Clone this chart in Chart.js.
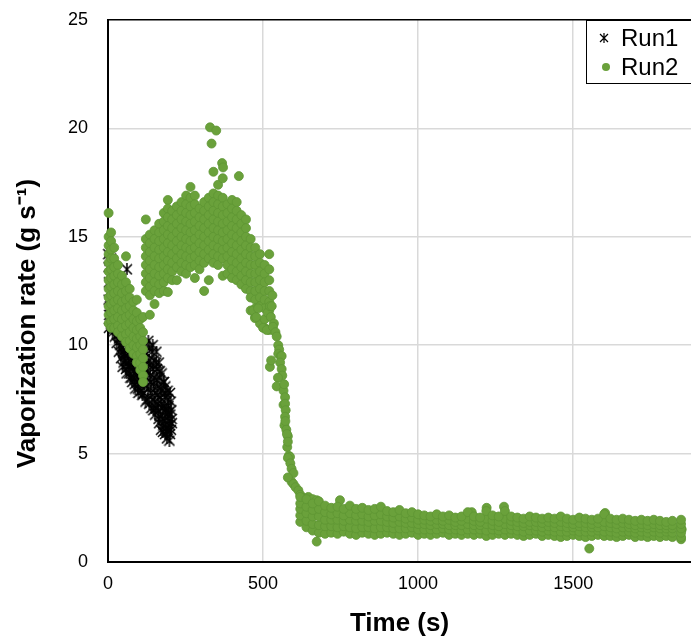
<!DOCTYPE html>
<html>
<head>
<meta charset="utf-8">
<script src="https://cdn.jsdelivr.net/npm/chart.js@4/dist/chart.umd.min.js"></script>
<style>
  html, body { margin: 0; padding: 0; background: #fff; overflow: hidden; }
</style>
</head>
<body>
<canvas id="chart" width="691" height="639"></canvas>
<script>
// Run1: [time (s), vaporization rate (g/s)]
const run1Points = [
  [1,14.2],[2,13.6],[3,12.9],[2,12.1],[4,11.4],[3,10.8],[5,13.9],[6,13.2],[7,12.5],[8,11.8],
  [9,11.0],[10,14.0],[12,13.1],[13,12.3],[14,11.5],[15,10.6],[17,12.8],[18,11.9],[20,11.2],[22,10.4],
  [24,12.0],[26,10.9],[28,10.1],[30,11.4],[33,10.5],[35,9.7],[38,10.9],[40,10.0],[42,9.4],[45,10.5],
  [48,9.7],[50,9.2],[53,10.2],[55,9.5],[58,8.9],[61,13.5],[62,9.9],[65,9.2],[68,8.7],[70,9.7],
  [73,9.0],[76,8.5],[80,9.5],[83,8.8],[86,8.2],[90,9.2],[93,8.6],[96,8.0],[100,9.0],[103,8.4],
  [106,7.9],[110,9.4],[113,8.6],[116,7.8],[120,10.0],[122,9.1],[124,8.3],[127,7.5],[130,10.2],[132,9.3],
  [135,8.6],[137,7.8],[140,7.1],[142,9.7],[145,8.9],[147,8.1],[150,7.4],[152,6.8],[155,9.2],[157,8.4],
  [160,7.7],[162,7.0],[165,6.4],[167,8.8],[170,8.0],[172,7.3],[175,6.6],[177,6.0],[180,8.3],[182,7.6],
  [185,6.9],[187,6.2],[190,5.7],[192,7.9],[195,7.2],[197,6.5],[200,5.9],[202,7.4],[205,6.6],[203,6.1],
  [198,5.6],[36,10.3],[44,9.9],[47,9.0],[52,9.6],[57,9.3],[60,8.7],[64,9.6],[67,9.0],[72,8.5],
  [75,9.3],[78,8.3],[82,9.0],[85,8.5],[88,8.0],[92,8.8],[95,8.3],[98,7.8],[99,9.3],[101,8.2],
  [104,9.3],[108,8.3],[111,7.7],[115,9.0],[118,8.2],[121,7.4],[125,9.6],[128,8.8],[129,8.0],[133,7.3],
  [134,9.9],[138,9.1],[139,8.3],[143,7.5],[144,10.0],[146,7.0],[148,9.3],[149,8.5],[151,7.8],[154,7.1],
  [156,9.7],[158,8.9],[159,8.1],[161,7.3],[163,6.6],[164,9.2],[166,8.5],[168,7.6],[169,6.8],[171,6.1],
  [173,8.7],[174,7.9],[176,7.1],[178,6.3],[179,8.3],[181,7.2],[183,6.5],[184,5.9],[186,7.8],[188,7.0],
  [189,6.0],[191,6.7],[193,6.1],[194,7.5],[196,6.9],[199,6.3],[201,6.8],[204,7.0],[206,6.4],[200,7.8],
  [185,8.1]
];

// Run2, first falling branch: sample times and the rates read at each time
const branchTimes = [2, 10, 20, 32, 45, 58, 70, 82, 93, 104, 113];
const branchRates = [
  [16.1, 15.0, 14.6, 14.2, 13.8, 13.4, 13.0, 12.6, 12.2, 11.8, 11.4, 11.0],
  [15.2, 14.8, 14.4, 14.0, 13.5, 13.1, 12.7, 12.3, 11.9, 11.5, 11.1, 10.8],
  [14.5, 14.0, 13.6, 13.2, 12.8, 12.4, 12.0, 11.6, 11.2, 10.8],
  [13.7, 13.3, 12.9, 12.5, 12.1, 11.7, 11.3, 10.9, 10.6],
  [13.2, 12.8, 12.4, 12.0, 11.6, 11.2, 10.8, 10.4],
  [14.1, 12.9, 12.5, 12.1, 11.7, 11.3, 10.9, 10.5, 10.15],
  [12.6, 12.2, 11.8, 11.4, 11.0, 10.6, 10.2, 9.85],
  [12.0, 11.6, 11.2, 10.8, 10.4, 10.0, 9.6],
  [12.1, 11.5, 11.1, 10.7, 10.3, 9.9, 9.5, 9.2],
  [11.2, 10.8, 10.4, 10.0, 9.6, 9.2, 8.86],
  [11.3, 10.6, 10.2, 9.8, 9.4, 9.0, 8.6, 8.3]
];

// Run2, high-rate cloud
const cloudTimes = [122, 135, 150, 165, 180, 193, 207, 222, 237, 252, 266, 280, 295, 310,
  325, 340, 355, 370, 385, 400, 415, 430, 445, 460, 475, 490, 505, 520];
const cloudRates = [
  [15.8, 14.9, 14.5, 14.1, 13.7, 13.3, 12.9, 12.5],
  [15.1, 14.7, 14.3, 13.9, 13.5, 13.1, 12.7, 12.3, 11.4],
  [15.3, 14.9, 14.5, 14.1, 13.7, 13.3, 12.9, 12.5, 11.9],
  [15.6, 15.2, 14.8, 14.4, 14.0, 13.6, 13.2, 12.8, 12.4],
  [16.1, 15.7, 15.3, 14.9, 14.5, 14.1, 13.7, 13.3, 12.9, 12.5],
  [16.7, 16.3, 15.9, 15.5, 15.1, 14.7, 14.3, 13.9, 13.5, 13.1, 12.45],
  [16.2, 15.8, 15.4, 15.0, 14.6, 14.2, 13.8, 13.4, 13.0],
  [16.4, 16.0, 15.6, 15.2, 14.8, 14.4, 14.0, 13.6, 13.0],
  [16.6, 16.2, 15.8, 15.4, 15.0, 14.6, 14.2, 13.8, 13.4],
  [16.9, 16.5, 16.1, 15.7, 15.3, 14.9, 14.5, 14.1, 13.7, 13.3],
  [17.3, 16.8, 16.4, 16.0, 15.6, 15.2, 14.8, 14.4, 14.0, 13.6],
  [16.9, 16.5, 16.1, 15.7, 15.3, 14.9, 14.5, 14.1, 13.7, 13.1],
  [16.3, 15.9, 15.5, 15.1, 14.7, 14.3, 13.9, 13.5],
  [16.6, 16.2, 15.8, 15.4, 15.0, 14.6, 14.2, 13.8, 12.5],
  [16.8, 16.4, 16.0, 15.6, 15.2, 14.8, 14.4, 14.0, 13.0],
  [18.0, 17.0, 16.6, 16.2, 15.8, 15.4, 15.0, 14.6, 14.2, 13.8],
  [17.4, 16.9, 16.5, 16.1, 15.7, 15.3, 14.9, 14.5, 14.1, 13.7],
  [17.7, 16.8, 16.4, 16.0, 15.6, 15.2, 14.8, 14.4, 14.0, 13.2],
  [16.5, 16.1, 15.7, 15.3, 14.9, 14.5, 14.1, 13.7, 13.3],
  [16.7, 16.3, 15.9, 15.5, 15.1, 14.7, 14.3, 13.9, 13.5, 13.1],
  [16.6, 16.2, 15.8, 15.4, 15.0, 14.6, 14.2, 13.8, 13.4, 13.0],
  [16.0, 15.6, 15.2, 14.8, 14.4, 14.0, 13.6, 13.2, 12.8],
  [15.8, 15.4, 15.0, 14.6, 14.2, 13.8, 13.4, 13.0, 12.6],
  [14.9, 14.5, 14.1, 13.7, 13.3, 12.9, 12.5, 12.2, 11.6],
  [14.5, 14.1, 13.7, 13.3, 12.9, 12.5, 12.1, 11.7, 11.3],
  [14.2, 13.8, 13.4, 13.0, 12.6, 12.2, 11.8, 11.0],
  [13.7, 13.3, 12.9, 12.5, 12.1, 11.7, 11.2, 10.8],
  [14.2, 13.5, 13.0, 12.5, 12.0, 11.6, 10.7]
];

// Run2, steep drop and single stray points
const dropPoints = [
  [329,20.05],[349,19.9],[334,19.3],[368,18.4],[371,18.2],[422,17.8],
  [468,11.6],[474,11.25],[478,11.3],[484,11.7],[500,10.8],[512,10.7],[515,11.5],[522,11.8],
  [528,11.8],[530,12.3],[525,11.3],[535,11.0],[532,10.85],[540,10.6],[544,10.4],[549,10.0],
  [552,9.8],[549,9.6],[557,9.5],[560,9.5],[555,9.2],[522,9.0],[526,9.3],[560,8.9],[562,8.6],
  [548,8.5],[544,8.1],[566,7.9],[568,8.2],[571,7.6],[566,7.25],[571,7.3],[573,7.0],[571,6.7],
  [569,6.3],[572,6.5],[575,6.1],[580,5.8],[577,5.9],[578,5.3],[580,5.55],[583,4.9],[587,4.85],
  [580,4.8],[588,4.55],[592,4.3],[598,4.1],[592,3.7],[580,3.9],[598,3.6],[605,3.45],[614,3.3],
  [620,3.1],[630,2.95],[646,3.0],[660,2.9],[673,2.85],[748,2.85],[673,0.94],
  [1173,2.3],[1221,2.5],[1277,2.55],[1552,0.62],[1603,2.26],[1848,1.05],[1850,1.5]
];

// Run2, long low-rate tail: times and five bands of rates across the scatter
const tailTimes = [620, 640, 660, 680, 700, 720, 740, 760, 780, 800, 820, 840, 860, 880, 900, 920,
  940, 960, 980, 1000, 1020, 1040, 1060, 1080, 1100, 1120, 1140, 1160, 1180, 1200, 1220, 1240,
  1260, 1280, 1300, 1320, 1340, 1360, 1380, 1400, 1420, 1440, 1460, 1480, 1500, 1520, 1540, 1560,
  1580, 1600, 1620, 1640, 1660, 1680, 1700, 1720, 1740, 1760, 1780, 1800, 1820, 1848];
const tailTop = [3.0, 2.9, 2.7, 2.8, 2.6,
  2.5, 2.55, 2.45, 2.6, 2.45, 2.5, 2.4, 2.45, 2.55, 2.35, 2.3, 2.4, 2.25, 2.3, 2.2,
  2.15, 2.1, 2.2, 2.1, 2.15, 2.05, 2.1, 2.3, 2.1, 2.05, 2.35, 2.15, 2.1, 2.35, 2.1,
  2.05, 2.0, 2.1, 2.05, 2.0, 2.05, 2.0, 2.1, 2.0, 1.95, 2.05, 2.0, 1.95, 2.0, 2.2,
  2.0, 1.95, 2.0, 1.95, 1.9, 1.95, 1.9, 1.95, 1.9, 1.85, 1.9, 1.95];
const tailHigh = [2.7, 2.55, 2.4, 2.45, 2.3,
  2.2, 2.25, 2.15, 2.25, 2.15, 2.2, 2.1, 2.15, 2.2, 2.1, 2.05, 2.1, 2.0, 2.05, 1.95,
  1.95, 1.9, 1.95, 1.9, 1.95, 1.85, 1.9, 2.0, 1.9, 1.85, 2.0, 1.9, 1.85, 2.0, 1.9,
  1.85, 1.8, 1.85, 1.85, 1.8, 1.85, 1.8, 1.85, 1.8, 1.75, 1.8, 1.8, 1.75, 1.8, 1.85,
  1.8, 1.75, 1.8, 1.75, 1.7, 1.75, 1.7, 1.75, 1.7, 1.7, 1.7, 1.75];
const tailMiddle = [2.45, 2.25, 2.1, 2.1, 1.95,
  1.95, 1.95, 1.9, 1.95, 1.9, 1.9, 1.85, 1.9, 1.9, 1.85, 1.8, 1.85, 1.8, 1.8, 1.75,
  1.75, 1.7, 1.75, 1.75, 1.7, 1.7, 1.7, 1.75, 1.7, 1.7, 1.75, 1.7, 1.65, 1.75, 1.7,
  1.65, 1.65, 1.7, 1.65, 1.6, 1.65, 1.6, 1.65, 1.6, 1.6, 1.65, 1.6, 1.6, 1.6, 1.65,
  1.6, 1.55, 1.6, 1.6, 1.55, 1.6, 1.55, 1.6, 1.55, 1.55, 1.55, 1.55];
const tailLow = [2.15, 1.9, 1.75, 1.7, 1.65,
  1.65, 1.6, 1.65, 1.6, 1.55, 1.6, 1.6, 1.55, 1.6, 1.6, 1.55, 1.55, 1.55, 1.6, 1.5,
  1.5, 1.5, 1.5, 1.55, 1.5, 1.5, 1.45, 1.5, 1.5, 1.5, 1.45, 1.5, 1.45, 1.5, 1.5,
  1.45, 1.4, 1.45, 1.45, 1.4, 1.45, 1.4, 1.4, 1.4, 1.45, 1.4, 1.4, 1.4, 1.45, 1.4,
  1.4, 1.35, 1.4, 1.4, 1.35, 1.4, 1.35, 1.4, 1.35, 1.4, 1.35, 1.35];
const tailBottom = [1.85, 1.6, 1.45, 1.35, 1.3,
  1.35, 1.3, 1.4, 1.3, 1.25, 1.35, 1.3, 1.25, 1.3, 1.35, 1.3, 1.25, 1.3, 1.35, 1.25,
  1.3, 1.25, 1.3, 1.35, 1.25, 1.3, 1.25, 1.3, 1.25, 1.3, 1.2, 1.25, 1.3, 1.25, 1.3,
  1.25, 1.2, 1.25, 1.3, 1.2, 1.25, 1.2, 1.15, 1.2, 1.25, 1.2, 1.15, 1.2, 1.25, 1.2,
  1.2, 1.15, 1.2, 1.25, 1.15, 1.2, 1.15, 1.2, 1.15, 1.2, 1.15, 1.15];

const xTicks = [0, 500, 1000, 1500];
const yTicks = [0, 5, 10, 15, 20, 25];

const GREEN = '#6aa13b';
const GREEN_EDGE = '#5e9533';
const FONT = 'Arial, "Liberation Sans", sans-serif';
const NBSP = '\u00A0';

// build {x, y} points from the column / row tables
function fromPairs(pairs) {
  return pairs.map(p => ({x: p[0], y: p[1]}));
}
function fromColumns(times, rates) {
  const pts = [];
  times.forEach((t, i) => rates[i].forEach(v => pts.push({x: t, y: v})));
  return pts;
}
function fromRows(times, ...rows) {
  const pts = [];
  rows.forEach(row => row.forEach((v, i) => pts.push({x: times[i], y: v})));
  return pts;
}

// excel style asterisk marker (x with a vertical bar)
function asterisk(size, width) {
  const c = document.createElement('canvas');
  c.width = c.height = size;
  const g = c.getContext('2d');
  g.strokeStyle = '#000';
  g.lineWidth = width;
  g.beginPath();
  g.moveTo(1, 1); g.lineTo(size - 1, size - 1);
  g.moveTo(size - 1, 1); g.lineTo(1, size - 1);
  g.moveTo(size / 2, 0); g.lineTo(size / 2, size);
  g.stroke();
  return c;
}

const run2Points = [].concat(
  fromColumns(branchTimes, branchRates),
  fromColumns(cloudTimes, cloudRates),
  fromPairs(dropPoints),
  fromRows(tailTimes, tailBottom, tailLow, tailMiddle, tailHigh, tailTop)
);

// legend drawn inside the plot area, boxed like the original
const boxLegend = {
  id: 'boxLegend',
  afterDraw(chart) {
    const ctx = chart.ctx;
    const area = chart.chartArea;
    const x = area.right - 105, y = area.top;
    ctx.save();
    ctx.fillStyle = '#fff';
    ctx.fillRect(x, y, 130, 63);
    ctx.strokeStyle = '#000';
    ctx.lineWidth = 1;
    ctx.strokeRect(x + 0.5, y + 0.5, 130, 63);
    ctx.font = '24px ' + FONT;
    ctx.textBaseline = 'middle';
    chart.data.datasets.forEach((ds, i) => {
      const cy = y + 18 + i * 29;
      if (i === 0) {
        ctx.drawImage(asterisk(10, 1.2), x + 13, cy - 5);
      } else {
        ctx.beginPath();
        ctx.arc(x + 20, cy, 4, 0, Math.PI * 2);
        ctx.fillStyle = ds.backgroundColor;
        ctx.fill();
      }
      ctx.fillStyle = '#000';
      ctx.fillText(ds.label, x + 35, cy + 1);
    });
    ctx.restore();
  }
};

new Chart(document.getElementById('chart'), {
  type: 'scatter',
  data: {
    datasets: [{
      label: 'Run1',
      data: fromPairs(run1Points),
      pointStyle: asterisk(12, 1.5),
      pointRadius: 6,
      order: 1,
      clip: false
    }, {
      label: 'Run2',
      data: run2Points,
      pointStyle: 'circle',
      pointRadius: 4.5,
      borderWidth: 0.8,
      backgroundColor: GREEN,
      borderColor: GREEN_EDGE,
      order: 0,
      clip: false
    }]
  },
  options: {
    responsive: false,
    devicePixelRatio: 1,
    animation: false,
    layout: { autoPadding: false, padding: { top: 20, right: 0, bottom: 0, left: 0 } },
    plugins: { legend: { display: false }, tooltip: { enabled: false } },
    scales: {
      x: {
        type: 'linear',
        min: 0,
        max: 1880,
        afterBuildTicks: axis => { axis.ticks = xTicks.map(v => ({value: v})); },
        afterFit: axis => {
          axis.height = 77;
          axis.paddingLeft = 0;
          axis.paddingRight = 0;
        },
        ticks: { padding: 11, color: '#000', font: { family: FONT, size: 18 }, callback: v => String(v) },
        grid: { color: '#d9d9d9', lineWidth: 1.5, drawTicks: false },
        border: { color: '#000', width: 2 },
        title: {
          display: true,
          text: 'Time (s)',
          color: '#000',
          font: { family: FONT, size: 26, weight: 'bold' },
          padding: { top: 0, bottom: 0 }
        }
      },
      y: {
        type: 'linear',
        min: 0,
        max: 25,
        afterBuildTicks: axis => { axis.ticks = yTicks.map(v => ({value: v})); },
        afterFit: axis => {
          axis.width = 108;
          axis.paddingTop = 0;
          axis.paddingBottom = 0;
        },
        ticks: { padding: 20, color: '#000', font: { family: FONT, size: 18 }, callback: v => String(v) },
        grid: {
          color: c => c.tick && c.tick.value === 25 ? '#000' : '#d9d9d9',
          lineWidth: 1.5,
          drawTicks: false
        },
        border: { color: '#000', width: 2 },
        title: {
          display: true,
          // trailing spaces push the centred title down to where the original sits
          text: 'Vaporization rate (g s\u207B\u00B9)' + NBSP.repeat(9),
          color: '#000',
          font: { family: FONT, size: 26, weight: 'bold' },
          padding: { top: 12, bottom: 0 }
        }
      }
    }
  },
  plugins: [boxLegend]
});
</script>
</body>
</html>
